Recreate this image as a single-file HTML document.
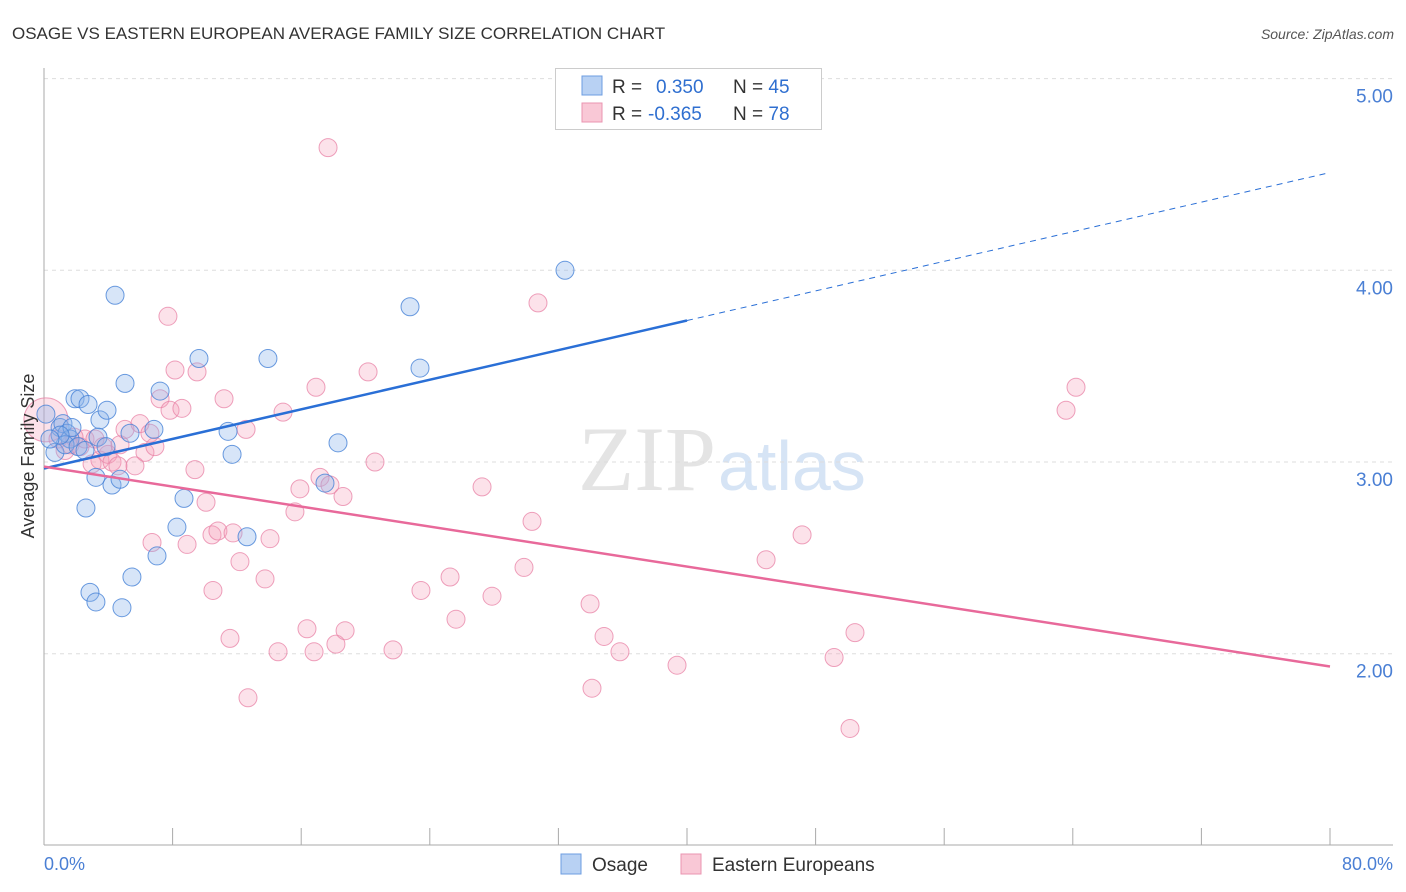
<!DOCTYPE html>
<html><head><meta charset="utf-8"><style>
body{margin:0;background:#fff;font-family:"Liberation Sans",sans-serif;}
svg{display:block}
</style></head><body>
<svg id="chart" width="1406" height="892">
<text x="12" y="39" font-size="17" fill="#333">OSAGE VS EASTERN EUROPEAN AVERAGE FAMILY SIZE CORRELATION CHART</text>
<text x="1394" y="39" font-size="14" fill="#555" font-style="italic" text-anchor="end">Source: ZipAtlas.com</text>
<text x="716" y="490" font-size="92" fill="#e4e4e4" font-family="Liberation Serif,serif" text-anchor="end">ZIP</text>
<text x="718" y="490" font-size="70" fill="#d6e4f5">atlas</text>
<g id="grid"></g><g id="axes"></g><g id="pts"></g><g id="lines"></g>
<text transform="translate(34,456) rotate(-90)" font-size="18" fill="#333" text-anchor="middle">Average Family Size</text>
<text x="44" y="870" font-size="18" fill="#4a7fd4">0.0%</text>
<text x="1393" y="870" font-size="18" fill="#4a7fd4" text-anchor="end">80.0%</text>
<g>
<rect x="555.5" y="68.5" width="266" height="61" fill="#fff" stroke="#ccc"/>
<rect x="582" y="76" width="20" height="19" fill="#b8d1f3" stroke="#6d9de0"/>
<rect x="582" y="103" width="20" height="19" fill="#f9c8d6" stroke="#ea94b0"/>
<text x="612" y="93" font-size="19" fill="#333">R = <tspan fill="#2f6fd0" x="656">0.350</tspan><tspan x="733" fill="#333">N = </tspan><tspan fill="#2f6fd0">45</tspan></text>
<text x="612" y="120" font-size="19" fill="#333">R = <tspan fill="#2f6fd0" x="648">-0.365</tspan><tspan x="733" fill="#333">N = </tspan><tspan fill="#2f6fd0">78</tspan></text>
</g>
<g>
<rect x="561" y="854" width="20" height="20" fill="#b8d1f3" stroke="#6d9de0"/>
<text x="592" y="871" font-size="19" fill="#333">Osage</text>
<rect x="681" y="854" width="20" height="20" fill="#f9c8d6" stroke="#ea94b0"/>
<text x="712" y="871" font-size="19" fill="#333">Eastern Europeans</text>
</g>
</svg>
<script>
const yTicks=[2,3,4,5];
const yTickLabels=["2.00","3.00","4.00","5.00"];
const xTicks=[8,16,24,32,40,48,56,64,72,80];
const osageX=[0.12,0.68,1.0,1.18,1.43,1.62,1.93,2.24,2.74,3.48,3.92,3.36,1.74,1.31,2.12,2.55,3.23,4.23,4.73,2.61,2.86,3.23,4.85,5.47,7.03,8.27,8.71,7.22,5.04,4.42,9.64,13.93,5.35,6.84,11.45,11.7,12.63,18.29,17.48,22.77,23.39,32.41,3.86,1.0,0.37];
const osageY=[3.25,3.05,3.18,3.20,3.15,3.12,3.33,3.33,3.30,3.22,3.27,3.13,3.18,3.09,3.08,3.06,2.92,2.88,2.91,2.76,2.32,2.27,2.24,2.40,2.51,2.66,2.81,3.37,3.41,3.87,3.54,3.54,3.15,3.17,3.16,3.04,2.61,3.10,2.89,3.81,3.49,4.00,3.08,3.14,3.12];
const eastX=[0.12,0.87,1.31,1.62,2.24,2.55,2.99,3.48,3.98,3.17,4.23,4.73,5.04,5.66,5.97,6.28,6.9,7.22,7.84,8.15,8.58,9.39,9.52,10.08,10.45,10.51,10.82,11.2,11.57,11.76,12.19,12.57,12.69,13.75,14.06,14.56,14.87,15.61,15.92,16.36,16.8,16.92,17.17,17.79,18.16,18.6,18.73,20.16,20.59,21.71,23.45,25.26,25.63,27.25,27.87,29.86,30.36,30.73,33.97,34.09,34.84,35.83,39.38,44.92,47.16,49.15,50.14,50.45,63.58,64.2,7.71,17.67,6.72,8.9,3.67,1.87,4.6,6.59];
const eastY=[3.22,3.12,3.06,3.09,3.08,3.12,2.99,3.01,3.04,3.12,3.0,3.09,3.17,2.98,3.2,3.05,3.08,3.33,3.27,3.48,3.28,2.96,3.47,2.79,2.62,2.33,2.64,3.33,2.08,2.63,2.48,3.17,1.77,2.39,2.6,2.01,3.26,2.74,2.86,2.13,2.01,3.39,2.92,2.88,2.05,2.82,2.12,3.47,3.0,2.02,2.33,2.4,2.18,2.87,2.3,2.45,2.69,3.83,2.26,1.82,2.09,2.01,1.94,2.49,2.62,1.98,1.61,2.11,3.27,3.39,3.76,4.64,2.58,2.57,3.08,3.13,2.98,3.15];
const osageTrend=[2.966,4.51];
const eastTrend=[2.976,1.933];
const NS='http://www.w3.org/2000/svg';
const sx=v=>44+v/80*1286;
const sy=v=>462-(v-3)*191.7;
function mk(tag,attrs,parent){const e=document.createElementNS(NS,tag);for(const k in attrs)e.setAttribute(k,attrs[k]);document.getElementById(parent).appendChild(e);return e;}
yTicks.forEach((t,i)=>{
 const l=mk('line',{x1:44,x2:1393,y1:sy(t),y2:sy(t),stroke:'#ddd','stroke-dasharray':'4,4'},'grid');
 
 
 const tx=mk('text',{x:1393,y:sy(t)+24,'font-size':19,fill:'#4a7fd4','text-anchor':'end'},'grid');
 tx.textContent=yTickLabels[i];
 
 
});
const ax=mk('line',{x1:44,x2:1393,y1:845,y2:845,stroke:'#aaa'},'axes');


const ay=mk('line',{x1:44,x2:44,y1:68,y2:845,stroke:'#aaa'},'axes');


xTicks.forEach(p=>{const t=mk('line',{x1:sx(p),x2:sx(p),y1:828,y2:845,stroke:'#aaa'},'axes');
 
 });
eastX.forEach((x,i)=>{const c=mk('circle',{cx:sx(x),cy:sy(eastY[i]),r:i===0?22:9,fill:'rgba(244,160,186,0.3)',stroke:'rgba(232,130,165,0.75)','stroke-width':1},'pts');
 
 });
osageX.forEach((x,i)=>{const c=mk('circle',{cx:sx(x),cy:sy(osageY[i]),r:9,fill:'rgba(140,180,235,0.35)',stroke:'rgba(70,130,215,0.8)','stroke-width':1},'pts');
 
 });
const om=v=>osageTrend[0]+(osageTrend[1]-osageTrend[0])*v/80;
const l1=mk('line',{x1:sx(0),y1:sy(om(0)),x2:sx(40),y2:sy(om(40)),stroke:'#2a6fd6','stroke-width':2.5},'lines');


const l2=mk('line',{x1:sx(40),y1:sy(om(40)),x2:sx(80),y2:sy(om(80)),stroke:'#2a6fd6','stroke-width':1,'stroke-dasharray':'6,5'},'lines');


const l3=mk('line',{x1:sx(0),y1:sy(eastTrend[0]),x2:sx(80),y2:sy(eastTrend[1]),stroke:'#e8699a','stroke-width':2.5},'lines');


</script>
</body></html>
